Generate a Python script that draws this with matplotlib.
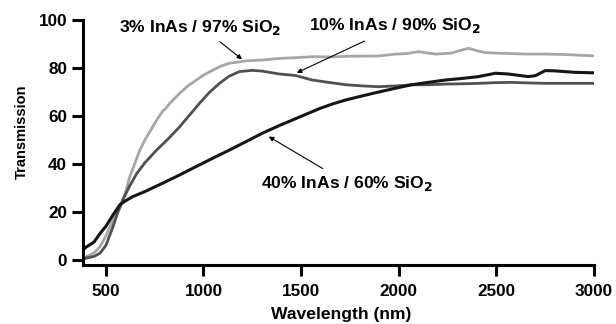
import matplotlib
matplotlib.use("Agg")
import matplotlib.pyplot as plt

plt.rcParams['font.family'] = ['Liberation Sans', 'DejaVu Sans']
plt.rcParams['font.weight'] = 'bold'

# 3% InAs / 97% SiO2
wl_3 = [390, 402, 440, 470, 500, 537, 572, 600, 623, 650, 674, 700, 740, 770, 791, 805, 830,
        878, 920, 964, 1000, 1046, 1090, 1133, 1180, 1220, 1300, 1388, 1450, 1556, 1650, 1750,
        1898, 1985, 2040, 2102, 2150, 2189, 2230, 2270, 2310, 2357, 2400, 2444, 2500, 2577,
        2650, 2750, 2850, 2985, 3000]
t_3 = [0.8, 1.4, 3.0, 5.5, 10, 16.7, 22, 28, 34.7, 40.5, 45.8, 50, 55.5, 59.5, 62, 63, 65.5,
       69.4, 72.5, 75, 77, 79, 80.8, 82, 82.5, 83, 83.3, 84, 84.2, 84.7, 84.6, 84.9,
       85, 85.8, 86, 86.8, 86.2, 85.8, 86, 86.2, 87.2, 88.2, 87.2, 86.4, 86.2, 86,
       85.8, 85.8, 85.6, 85.1, 85.1]

# 10% InAs / 90% SiO2
wl_10 = [390, 402, 440, 470, 500, 537, 560, 587, 620, 658, 700, 760, 820, 878, 930, 980, 1030,
         1082, 1130, 1184, 1250, 1300, 1352, 1388, 1430, 1475, 1556, 1640, 1730, 1820, 1898,
         1980, 2066, 2150, 2240, 2320, 2408, 2500, 2577, 2650, 2750, 2850, 2985, 3000]
t_10 = [0.5, 0.8, 1.5, 2.8, 6, 13.9, 19.5, 25, 30.5, 36, 40.5, 45.8, 50.5, 55.5, 60.5, 65.3, 69.8,
        73.6, 76.5, 78.5, 79, 78.7, 78, 77.5, 77.2, 76.8, 75, 74, 73, 72.5, 72.2,
        72.5, 73, 73, 73.3, 73.4, 73.6, 73.9, 74, 73.8, 73.6, 73.6, 73.6, 73.6]

# 40% InAs / 60% SiO2
wl_40 = [390, 402, 440, 470, 500, 537, 572, 600, 638, 700, 791, 880, 964, 1050, 1133, 1220,
         1301, 1388, 1490, 1592, 1660, 1730, 1820, 1898, 1980, 2066, 2150, 2240, 2320, 2408,
         2495, 2560, 2663, 2700, 2750, 2800, 2900, 2985, 3000]
t_40 = [4.8, 5.5, 7.5, 11, 14, 18.8, 23, 24.6, 26.4, 28.5, 32, 35.5, 39, 42.5, 45.8, 49.4,
        52.8, 56, 59.5, 63, 65, 66.7, 68.5, 70, 71.5, 73, 74, 75, 75.6, 76.4,
        77.8, 77.5, 76.4, 76.8, 78.9, 78.8, 78.2, 78, 78]

x_ticks = [500, 1000, 1500, 2000, 2500, 3000]
y_ticks = [0, 20, 40, 60, 80, 100]

fig = plt.figure(figsize=(6.16, 3.24), dpi=100)
ax = fig.add_axes([0.1347, 0.1821, 0.9643 - 0.1347, 0.9383 - 0.1821])

ax.plot(wl_3, t_3, color='#a6a6a6', lw=2.0, solid_joinstyle='round')
ax.plot(wl_10, t_10, color='#505050', lw=2.0, solid_joinstyle='round')
ax.plot(wl_40, t_40, color='#151515', lw=2.2, solid_joinstyle='round')

ax.set_xlim(383, 3000)
ax.set_ylim(-2.1, 100)
ax.set_xticks(x_ticks)
ax.set_yticks(y_ticks)
for s in ['top', 'right']:
    ax.spines[s].set_visible(False)
for s in ['left', 'bottom']:
    ax.spines[s].set_linewidth(2.2)
ax.tick_params(axis='both', direction='out', length=8, width=2.2, labelsize=12.3)
ax.tick_params(axis='x', pad=6)
ax.tick_params(axis='y', pad=3.5)
for lab in ax.get_xticklabels() + ax.get_yticklabels():
    lab.set_fontweight('bold')

ax.set_xlabel('Wavelength (nm)', fontsize=12.6, fontweight='bold')
ax.set_ylabel('Transmission', fontsize=10.5, fontweight='bold')
ax.xaxis.set_label_coords(0.505, -0.172)
ax.yaxis.set_label_coords(-0.106, 0.544)

fs = 12.6
ax.text(985, 97, '3% InAs / 97% SiO$_\\mathbf{2}$', ha='center', va='center', fontsize=fs, fontweight='bold')
ax.text(1980, 97.5, '10% InAs / 90% SiO$_\\mathbf{2}$', ha='center', va='center', fontsize=fs, fontweight='bold')
ax.text(1735, 32, '40% InAs / 60% SiO$_\\mathbf{2}$', ha='center', va='center', fontsize=fs, fontweight='bold')

arrow = dict(arrowstyle='-|>', color='black', lw=0.8, mutation_scale=7)
ax.annotate('', xy=(1209, 82.9), xytext=(1072, 91.7), arrowprops=arrow)
ax.annotate('', xy=(1465, 77.5), xytext=(1837, 91.7), arrowprops=arrow)
ax.annotate('', xy=(1322, 52), xytext=(1623, 37.5), arrowprops=arrow)

fig.savefig('out.png', dpi=100)
